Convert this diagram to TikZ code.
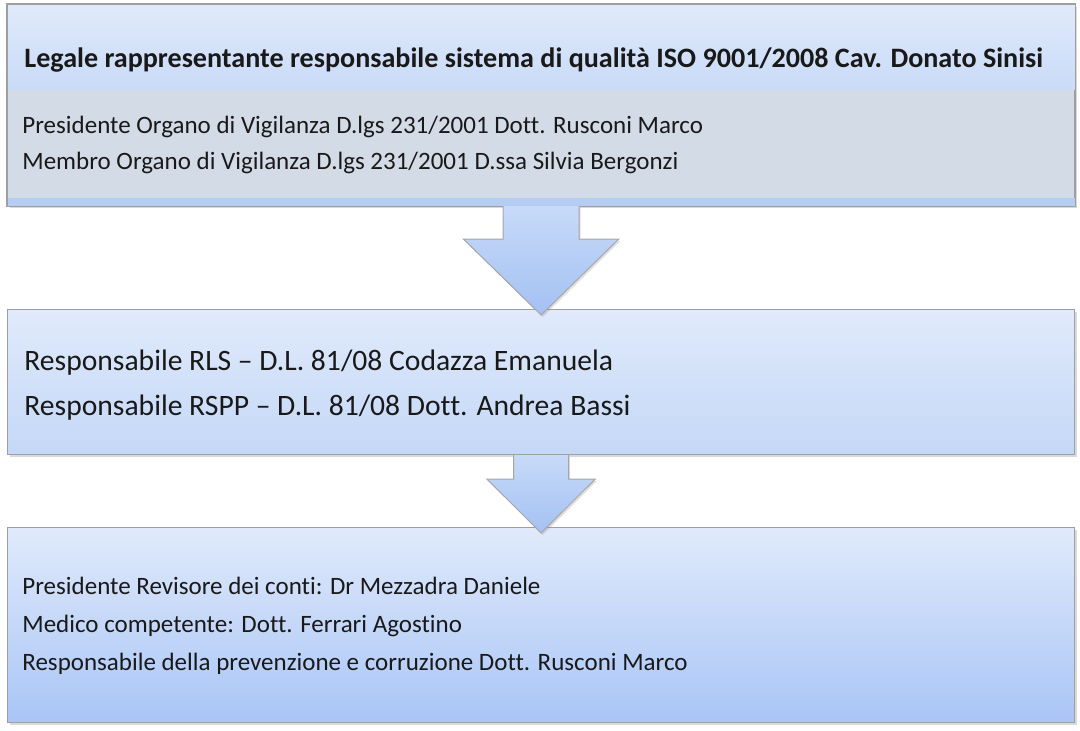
\documentclass[tikz,border=0pt]{standalone}
\usepackage{fontspec}
\setmainfont{Carlito}[Ligatures=NoCommon]
\usetikzlibrary{calc,shadows}

\definecolor{boxtop}{HTML}{E0EAFB}
\definecolor{boxmid}{HTML}{C9DBF7}
\definecolor{boxlow}{HTML}{A9C5F6}
\definecolor{band}{HTML}{D3DBE7}
\definecolor{strip}{HTML}{B5CDF3}
\definecolor{arrtop}{HTML}{C7DAF8}
\definecolor{arrlow}{HTML}{A4C1F3}

\begin{document}
\begin{tikzpicture}[x=0.5pt,y=-0.5pt,
    box/.style={draw=gray!75,line width=0.6pt,anchor=north west,inner sep=0pt,minimum width=533.5pt,
        drop shadow={shadow xshift=1pt,shadow yshift=-1.2pt,opacity=0.3}},
    blockarrow/.style={draw=gray!70,line width=0.5pt,top color=arrtop,bottom color=arrlow,
        drop shadow={shadow xshift=0.8pt,shadow yshift=-1pt,opacity=0.25}},
    line/.style={anchor=base west,inner sep=0pt,text=black!90,font=\fontsize{12.5}{14}\selectfont},
    bigline/.style={line,font=\fontsize{14.8}{17}\selectfont},
    headline/.style={line,font=\bfseries\fontsize{14.05}{16}\selectfont}]
                \useasboundingbox (0,0) rectangle (1080,730);
                \node[box,minimum height=100.5pt,fill=band](top)at(7, 4){};
                \node[box,minimum height=72.5pt,top color=boxtop,bottom color=boxmid!85!boxlow](mid)at(7, 309){};
                \node[box,minimum height=97.5pt,top color=boxtop,bottom color=boxlow](low)at(7, 527){};

                % bands inside the first box
                \fill[top color=boxtop,bottom color=boxmid] (top.north west) rectangle ($(top.north east)+(0,85)$);
                \fill[strip] ($(top.south west)+(0,-8)$) rectangle (top.south east);
                \draw[gray!75,line width=0.6pt] (top.north west) rectangle (top.south east);

                % block arrows
                \draw[blockarrow] ($(top.south)+(-38,0)$) -- ++(0,33) -- ++(-39.5,0)
                    -- ($(mid.north)+(0,6)$) -- ($(top.south)+(77.5,33)$) -- ++(-39.5,0) -- ($(top.south)+(38,0)$);
                \draw[blockarrow] ($(mid.south)+(-27.5,0)$) -- ++(0,24) -- ++(-26.5,0)
                    -- ($(low.north)+(0,6)$) -- ($(mid.south)+(54,24)$) -- ++(-26.5,0) -- ($(mid.south)+(27.5,0)$);

                \node[headline](t1)at(24, 67){Legale rappresentante responsabile sistema di qualità ISO 9001/2008 Cav. Donato Sinisi};
                \node[line](t2)at(22, 133){Presidente Organo di Vigilanza D.lgs 231/2001 Dott. Rusconi Marco};
                \node[line](t3)at(22, 169){Membro Organo di Vigilanza D.lgs 231/2001 D.ssa Silvia Bergonzi};
                \node[bigline](m1)at(24, 370){Responsabile RLS – D.L. 81/08 Codazza Emanuela};
                \node[bigline](m2)at(24, 415){Responsabile RSPP – D.L. 81/08 Dott. Andrea Bassi};
                \node[line](l1)at(22, 594){Presidente Revisore dei conti: Dr Mezzadra Daniele};
                \node[line](l2)at(22, 632){Medico competente: Dott. Ferrari Agostino};
                \node[line](l3)at(22, 670){Responsabile della prevenzione e corruzione Dott. Rusconi Marco};
\end{tikzpicture}
\end{document}
